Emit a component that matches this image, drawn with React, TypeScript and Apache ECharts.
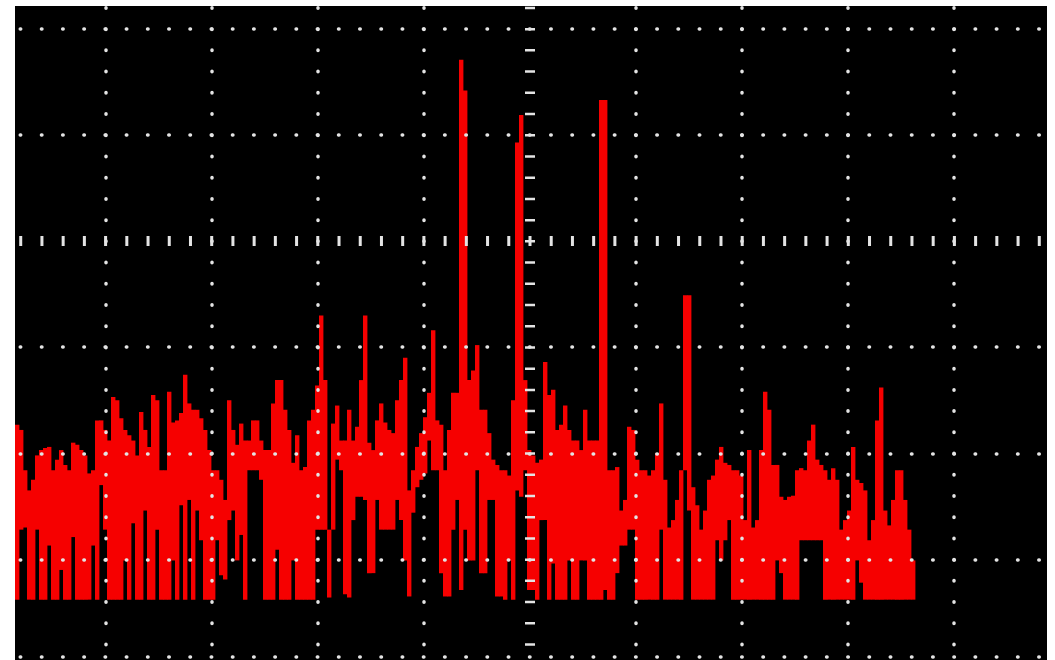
import React, { useEffect, useRef } from "react";
import * as echarts from "echarts";

// Spectrum trace: per display column, upper and lower edge of the drawn trace (dBm)
const traceHigh = [
  -57.3, -57.8, -61.6, -63.5, -62.5, -60.2, -59.7, -59.5, -59.4, -61.6,
  -60.6, -59.7, -61.1, -61.6, -59.0, -59.2, -59.7, -60.2, -61.9, -61.6,
  -56.9, -56.9, -57.8, -58.8, -54.7, -55.0, -56.7, -57.8, -58.3, -58.8,
  -60.2, -56.1, -57.8, -59.4, -54.5, -55.0, -61.6, -61.6, -54.2, -57.1,
  -56.9, -56.2, -52.6, -55.3, -55.9, -55.9, -56.7, -57.8, -59.7, -61.6,
  -61.6, -62.5, -64.4, -55.0, -57.8, -59.2, -57.2, -58.8, -58.8, -56.9,
  -56.9, -58.8, -59.7, -59.7, -55.3, -53.1, -53.1, -55.9, -57.8, -60.9,
  -58.3, -61.6, -61.3, -56.9, -55.9, -53.6, -47.0, -53.1, -67.2, -57.2,
  -55.5, -58.8, -58.8, -55.9, -58.8, -57.5, -53.1, -47.0, -59.0, -59.7,
  -56.9, -55.3, -57.1, -57.8, -58.1, -55.0, -53.1, -51.0, -63.5, -61.6,
  -59.4, -58.1, -56.6, -54.3, -48.4, -56.9, -57.3, -61.6, -57.8, -54.3,
  -54.3, -22.9, -25.8, -53.1, -52.2, -49.8, -55.9, -55.9, -58.1, -60.6,
  -61.1, -61.6, -61.6, -62.1, -55.0, -30.7, -28.1, -53.1, -59.7, -60.2,
  -60.9, -60.6, -51.4, -54.5, -54.0, -57.8, -57.3, -55.5, -57.8, -58.8,
  -58.8, -59.7, -55.9, -58.8, -58.8, -58.8, -26.7, -26.7, -61.6, -61.6,
  -61.3, -65.4, -64.4, -57.5, -57.8, -60.6, -61.6, -61.6, -62.1, -61.6,
  -60.0, -55.3, -62.5, -67.0, -66.3, -64.4, -61.6, -45.1, -45.1, -63.2,
  -64.9, -67.2, -65.4, -62.5, -62.1, -60.6, -59.4, -60.9, -61.1, -61.6,
  -61.6, -62.1, -66.3, -59.7, -67.0, -66.3, -59.7, -54.2, -55.9, -61.1,
  -61.1, -64.1, -64.4, -64.1, -64.0, -61.6, -61.4, -61.6, -58.8, -57.3,
  -60.6, -61.1, -61.6, -62.5, -61.4, -62.5, -67.2, -66.3, -65.4, -59.4,
  -62.5, -62.8, -63.5, -68.2, -66.3, -56.9, -53.8, -65.4, -66.8, -64.4,
  -61.6, -61.6, -64.4, -67.2, -70.1,
];

const traceLow = [
  -73.8, -67.2, -67.0, -73.8, -73.8, -67.2, -73.8, -73.8, -68.7, -73.8,
  -73.8, -71.0, -73.8, -73.8, -67.9, -73.8, -73.8, -73.8, -73.8, -68.7,
  -73.8, -63.0, -67.2, -73.8, -73.8, -73.8, -73.8, -70.1, -73.8, -66.6,
  -73.8, -73.8, -65.4, -73.8, -73.8, -67.2, -73.8, -73.8, -73.8, -70.1,
  -73.8, -64.9, -73.8, -64.4, -73.8, -65.4, -68.2, -73.8, -73.8, -73.8,
  -68.2, -71.5, -71.9, -66.3, -65.4, -70.1, -67.7, -73.8, -61.6, -61.6,
  -61.6, -62.5, -73.8, -73.8, -73.8, -69.1, -73.8, -73.8, -73.8, -70.1,
  -73.8, -73.8, -73.8, -73.8, -73.8, -67.2, -67.2, -67.2, -73.6, -67.2,
  -60.6, -61.6, -73.3, -73.6, -66.3, -64.1, -64.1, -64.4, -71.3, -71.3,
  -64.4, -67.2, -67.2, -67.2, -67.2, -64.4, -66.3, -70.1, -73.5, -65.6,
  -63.2, -62.5, -61.9, -58.8, -61.6, -61.6, -71.3, -73.5, -73.5, -67.2,
  -64.4, -72.9, -67.2, -70.1, -70.1, -61.6, -71.3, -71.3, -64.4, -64.4,
  -73.5, -73.5, -73.8, -70.1, -73.8, -63.5, -64.1, -61.6, -72.9, -72.9,
  -73.8, -66.3, -66.3, -73.8, -70.4, -73.8, -73.8, -73.8, -70.1, -73.8,
  -73.8, -70.1, -70.1, -73.8, -73.8, -73.8, -73.8, -72.9, -73.8, -73.8,
  -71.3, -68.7, -68.7, -67.2, -67.2, -73.8, -73.8, -73.8, -73.8, -73.8,
  -73.8, -67.2, -73.8, -73.8, -73.8, -73.8, -73.8, -61.6, -65.4, -73.8,
  -73.8, -73.8, -73.8, -73.8, -73.8, -68.2, -70.1, -68.2, -66.3, -73.8,
  -73.8, -73.8, -73.8, -73.8, -73.8, -73.8, -73.8, -73.8, -73.8, -73.8,
  -70.1, -71.3, -73.8, -73.8, -73.8, -73.8, -68.2, -68.2, -68.2, -68.2,
  -68.2, -68.2, -73.8, -73.8, -73.8, -73.8, -73.8, -73.8, -73.8, -73.8,
  -70.1, -72.2, -73.8, -73.8, -73.8, -73.8, -73.8, -73.8, -73.8, -73.8,
  -73.8, -73.8, -73.8, -73.8, -73.8,
];

// Display columns across the whole screen (trace only fills the first part)
const columnCount = 258;
const columnLabels = Array.from({ length: columnCount }, (_, i) => String(i));

// Graticule: vertical divisions (x) and horizontal levels (dBm)
const verticalDivisions = [-4, -3, -2, -1, 1, 2, 3, 4];
const centerDivision = 0;
const levelLines = [-20, -30, -50, -60, -70];
const centerLevel = -40;
const frameLevel = -79.21;

const X_MIN = -4.852;
const X_MAX = 4.875;
const Y_MIN = -79.49;
const Y_MAX = -17.83;

const TRACE_COLOR = "#f60000";
const DOT_COLOR = "#e4e4e4";

export default function App() {
  const ref = useRef<HTMLDivElement>(null);

  useEffect(() => {
    if (!ref.current) return;
    const chart = echarts.init(ref.current, null, { renderer: "svg" });

    const traceData = traceHigh.map((h, i) => [i, traceLow[i], h]);

    const dotV = {
      color: DOT_COLOR,
      width: 3.5,
      type: [0.5, 20.72],
      cap: "round",
      dashOffset: 5.67,
    };
    const dotH = {
      color: DOT_COLOR,
      width: 3.5,
      type: [0.5, 20.72],
      cap: "round",
      dashOffset: 16.07,
    };
    const barV = {
      color: DOT_COLOR,
      width: 10,
      type: [2.5, 18.72],
      cap: "butt",
      dashOffset: 6.67,
    };
    const barH = {
      color: DOT_COLOR,
      width: 10,
      type: [3, 18.22],
      cap: "butt",
      dashOffset: 17.32,
    };

    const markData: any[] = [
      ...verticalDivisions.map((v) => ({ xAxis: v, lineStyle: dotV })),
      { xAxis: centerDivision, lineStyle: barV },
      ...levelLines.map((v) => ({ yAxis: v, lineStyle: dotH })),
      { yAxis: centerLevel, lineStyle: barH },
      { yAxis: frameLevel, lineStyle: dotH },
    ];

    chart.setOption({
      animation: false,
      backgroundColor: "#ffffff",
      grid: {
        left: 15,
        right: 8,
        top: 6,
        bottom: 0,
        show: true,
        backgroundColor: "#000000",
        borderWidth: 0,
      },
      xAxis: [
        {
          type: "category",
          data: columnLabels,
          boundaryGap: true,
          show: false,
        },
        {
          type: "value",
          min: X_MIN,
          max: X_MAX,
          show: false,
          splitLine: { show: false },
        },
      ],
      yAxis: {
        type: "value",
        min: Y_MIN,
        max: Y_MAX,
        show: false,
        splitLine: { show: false },
      },
      series: [
        {
          type: "custom",
          xAxisIndex: 0,
          yAxisIndex: 0,
          z: 2,
          silent: true,
          encode: { x: 0, y: [1, 2] },
          data: traceData,
          renderItem: (params: any, api: any) => {
            const i = api.value(0);
            const top = api.coord([i, api.value(2)]);
            const bottom = api.coord([i, api.value(1)]);
            const w = api.size([1, 0])[0];
            const x = Math.round(top[0] - w / 2);
            return {
              type: "rect",
              shape: {
                x,
                y: top[1],
                width: Math.round(w) + 0.4,
                height: Math.max(bottom[1] - top[1], 1),
              },
              style: { fill: TRACE_COLOR },
            };
          },
        },
        {
          type: "line",
          xAxisIndex: 1,
          yAxisIndex: 0,
          z: 5,
          silent: true,
          data: [],
          markLine: {
            silent: true,
            animation: false,
            symbol: ["none", "none"],
            label: { show: false },
            emphasis: { disabled: true },
            data: markData,
          },
        },
      ],
    });

    return () => chart.dispose();
  }, []);

  return (
    <div
      ref={ref}
      style={{
        position: "absolute",
        left: 0,
        top: 0,
        width: 1055,
        height: 660,
        background: "#ffffff",
      }}
    />
  );
}
